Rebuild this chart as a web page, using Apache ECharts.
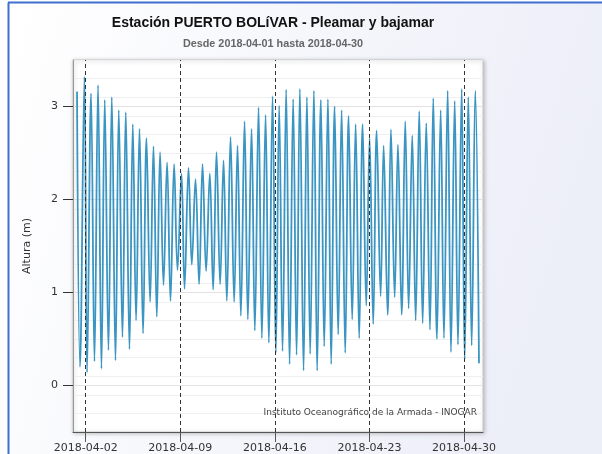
<!DOCTYPE html>
<html>
<head>
<meta charset="utf-8">
<script src="https://cdn.jsdelivr.net/npm/echarts@6/dist/echarts.min.js"></script>
<style>
  html, body { margin: 0; padding: 0; background: #fff; }
  #chart { width: 602px; height: 454px; }
</style>
</head>
<body>
<div id="chart"></div>
<script>
// Tide extremes (high / low water) at Puerto Bolívar, April 2018
const times = [
  '2018-04-01 08:30','2018-04-01 13:50','2018-04-01 21:40',
  '2018-04-02 02:20','2018-04-02 09:25','2018-04-02 15:30','2018-04-02 21:50',
  '2018-04-03 03:55','2018-04-03 09:45','2018-04-03 16:20','2018-04-03 22:15',
  '2018-04-04 04:50','2018-04-04 10:40','2018-04-04 17:15','2018-04-04 23:05',
  '2018-04-05 05:40','2018-04-05 11:35','2018-04-05 17:25','2018-04-05 23:30',
  '2018-04-06 05:50','2018-04-06 11:55','2018-04-06 18:20',
  '2018-04-07 00:20','2018-04-07 06:15','2018-04-07 12:05','2018-04-07 18:10',
  '2018-04-08 00:30','2018-04-08 06:35','2018-04-08 13:00','2018-04-08 19:00',
  '2018-04-09 02:10','2018-04-09 07:30','2018-04-09 14:35','2018-04-09 20:25',
  '2018-04-10 03:00','2018-04-10 09:25','2018-04-10 15:30','2018-04-10 21:50',
  '2018-04-11 04:25','2018-04-11 10:20','2018-04-11 16:20','2018-04-11 22:45',
  '2018-04-12 04:50','2018-04-12 10:40','2018-04-12 17:15','2018-04-12 23:40',
  '2018-04-13 05:40','2018-04-13 11:35','2018-04-13 18:10',
  '2018-04-14 00:00','2018-04-14 06:35','2018-04-14 12:25','2018-04-14 19:00',
  '2018-04-15 00:55','2018-04-15 07:30','2018-04-15 13:20','2018-04-15 19:55',
  '2018-04-16 01:45','2018-04-16 07:40','2018-04-16 13:40','2018-04-16 20:05',
  '2018-04-17 02:10','2018-04-17 08:30','2018-04-17 14:35','2018-04-17 20:25',
  '2018-04-18 03:00','2018-04-18 08:55','2018-04-18 14:45','2018-04-18 21:20',
  '2018-04-19 03:10','2018-04-19 09:45','2018-04-19 15:40','2018-04-19 22:15',
  '2018-04-20 04:05','2018-04-20 10:10','2018-04-20 16:30','2018-04-20 22:35',
  '2018-04-21 05:00','2018-04-21 11:00','2018-04-21 17:25','2018-04-21 23:30',
  '2018-04-22 05:50','2018-04-22 11:55','2018-04-22 18:20',
  '2018-04-23 00:20','2018-04-23 06:45','2018-04-23 12:50','2018-04-23 19:55',
  '2018-04-24 01:15','2018-04-24 08:20','2018-04-24 14:15','2018-04-24 20:50',
  '2018-04-25 02:40','2018-04-25 09:15','2018-04-25 15:40','2018-04-25 21:40',
  '2018-04-26 04:05','2018-04-26 10:10','2018-04-26 16:30','2018-04-26 22:35',
  '2018-04-27 05:00','2018-04-27 11:35','2018-04-27 17:25',
  '2018-04-28 00:00','2018-04-28 06:35','2018-04-28 12:25','2018-04-28 19:00',
  '2018-04-29 00:55','2018-04-29 07:30','2018-04-29 13:20','2018-04-29 19:55',
  '2018-04-30 01:15','2018-04-30 07:40','2018-04-30 13:40','2018-04-30 20:05',
  '2018-05-01 02:40'
];

// Height of each extreme, metres
const heights = [
  3.16, 0.20, 3.32,
  0.14, 3.14, 0.26, 3.23,
  0.18, 3.07, 0.38, 3.10,
  0.27, 2.96, 0.52, 2.94,
  0.39, 2.81, 0.70, 2.76,
  0.56, 2.66, 0.90,
  2.57, 0.74, 2.51, 1.08,
  2.40, 0.91, 2.38, 1.24,
  2.28, 1.04, 2.34, 1.30,
  2.22, 1.09, 2.38, 1.23,
  2.28, 1.03, 2.51, 1.09,
  2.42, 0.91, 2.67, 0.90,
  2.58, 0.75, 2.84,
  0.71, 2.76, 0.59, 2.99,
  0.51, 2.91, 0.46, 3.11,
  0.35, 3.01, 0.37, 3.18,
  0.23, 3.08, 0.33, 3.19,
  0.16, 3.10, 0.34, 3.17,
  0.16, 3.07, 0.42, 3.08,
  0.23, 3.00, 0.55, 2.96,
  0.35, 2.90, 0.71, 2.81,
  0.51, 2.81, 0.86,
  2.66, 0.66, 2.74, 0.96,
  2.58, 0.76, 2.75, 0.95,
  2.59, 0.76, 2.84, 0.83,
  2.69, 0.70, 2.95, 0.67,
  2.82, 0.60, 3.09,
  0.50, 2.96, 0.51, 3.17,
  0.36, 3.06, 0.44, 3.19,
  0.28, 3.10, 0.43, 3.17,
  0.24
];

// Weekly date ticks on the time axis
const tickDates = ['2018-04-02', '2018-04-09', '2018-04-16', '2018-04-23', '2018-04-30'];

// Height labels on the vertical axis
const heightTicks = [0, 1, 2, 3];

const titleText = 'Estación PUERTO BOLíVAR - Pleamar y bajamar';
const subtitleText = 'Desde 2018-04-01 hasta 2018-04-30';
const creditText = 'Instituto Oceanográfico de la Armada - INOGAR';

function toUTC(s) {
  const [d, t] = s.split(' ');
  const [y, m, day] = d.split('-').map(Number);
  const [hh, mm] = (t || '00:00').split(':').map(Number);
  return Date.UTC(y, m - 1, day, hh, mm);
}
function fmtDate(ms) {
  const d = new Date(ms);
  const p = n => String(n).padStart(2, '0');
  return d.getUTCFullYear() + '-' + p(d.getUTCMonth() + 1) + '-' + p(d.getUTCDate());
}

const points = times.map((t, i) => [toUTC(t), heights[i]]);
const ticksMs = tickDates.map(toUTC);
const first = points[0][0];
const last = points[points.length - 1][0];
const pad = (last - first) * 0.01;

const chart = echarts.init(document.getElementById('chart'), null, { renderer: 'canvas' });

const axisFont = 'DejaVu Sans, Verdana, sans-serif';
const titleFont = 'Liberation Sans, Arial, Helvetica, sans-serif';

chart.setOption({
  animation: false,
  backgroundColor: '#ffffff',
  graphic: [
    {
      type: 'rect', z: -10, silent: true,
      shape: { x: 9, y: 3, width: 593, height: 451 },
      style: {
        fill: new echarts.graphic.LinearGradient(0, 0, 1, 0.4, [
          { offset: 0, color: '#ffffff' },
          { offset: 1, color: '#eceef8' }
        ])
      }
    },
    { type: 'line', z: -9, silent: true, shape: { x1: 8.5, y1: 2.5, x2: 8.5, y2: 454 }, style: { stroke: '#3f6fcf', lineWidth: 2 } },
    { type: 'line', z: -9, silent: true, shape: { x1: 8, y1: 2.5, x2: 602, y2: 2.5 }, style: { stroke: '#3f6fcf', lineWidth: 2 } },
    {
      type: 'text', z: 10, silent: true,
      x: 477, y: 413,
      style: {
        text: creditText, fill: '#444', align: 'right', verticalAlign: 'middle',
        font: '9px DejaVu Sans, Verdana, sans-serif'
      }
    }
  ],
  title: {
    text: titleText,
    subtext: subtitleText,
    left: 268,
    textAlign: 'center',
    top: 11,
    itemGap: 9,
    textStyle: {
      fontFamily: titleFont, fontWeight: 'bold', fontSize: 14, color: '#111'
    },
    subtextStyle: {
      fontFamily: titleFont, fontWeight: 'bold', fontSize: 10.8, color: '#666'
    }
  },
  grid: {
    left: 73, right: 119, top: 60, bottom: 22,
    show: true, backgroundColor: '#ffffff', borderColor: '#c8c8c8', borderWidth: 1,
    shadowColor: 'rgba(0,0,0,0.25)', shadowBlur: 4, shadowOffsetX: 1, shadowOffsetY: 1
  },
  xAxis: {
    type: 'value',
    min: first - pad,
    max: last + pad,
    axisLine: { show: true, onZero: false, lineStyle: { color: '#555', width: 1 } },
    axisTick: { show: true, customValues: ticksMs, length: 10, lineStyle: { color: '#555' } },
    axisLabel: {
      customValues: ticksMs, formatter: v => fmtDate(v), margin: 11,
      fontFamily: axisFont, fontSize: 11, color: '#333'
    },
    splitLine: { show: false }
  },
  yAxis: [
    {
      type: 'value', min: -0.5, max: 3.5, interval: 0.2,
      axisLine: { show: true, lineStyle: { color: '#999' } },
      axisTick: { show: false },
      axisLabel: { show: false },
      splitLine: { show: true, lineStyle: { color: '#efefef', width: 1 } }
    },
    {
      type: 'value', min: -0.5, max: 3.5, interval: 1,
      position: 'left',
      name: 'Altura (m)', nameLocation: 'middle', nameGap: 40, nameRotate: 90,
      nameTextStyle: { fontFamily: axisFont, fontSize: 11, color: '#333' },
      axisLine: { show: false },
      axisTick: { show: true, customValues: heightTicks, length: 10, lineStyle: { color: '#333' } },
      axisLabel: {
        customValues: heightTicks, margin: 15,
        fontFamily: axisFont, fontSize: 11, color: '#333'
      },
      splitLine: { show: true, lineStyle: { color: '#e2e2e2', width: 1 } }
    }
  ],
  series: [{
    type: 'line',
    yAxisIndex: 0,
    data: points,
    smooth: 0.4,
    showSymbol: false,
    lineStyle: { color: '#3a95c2', width: 1.8 },
    markLine: {
      silent: true, symbol: 'none',
      label: { show: false },
      lineStyle: { color: '#333', type: [4, 3], width: 1 },
      data: ticksMs.map(t => ({ xAxis: t }))
    }
  }]
});
</script>
</body>
</html>
